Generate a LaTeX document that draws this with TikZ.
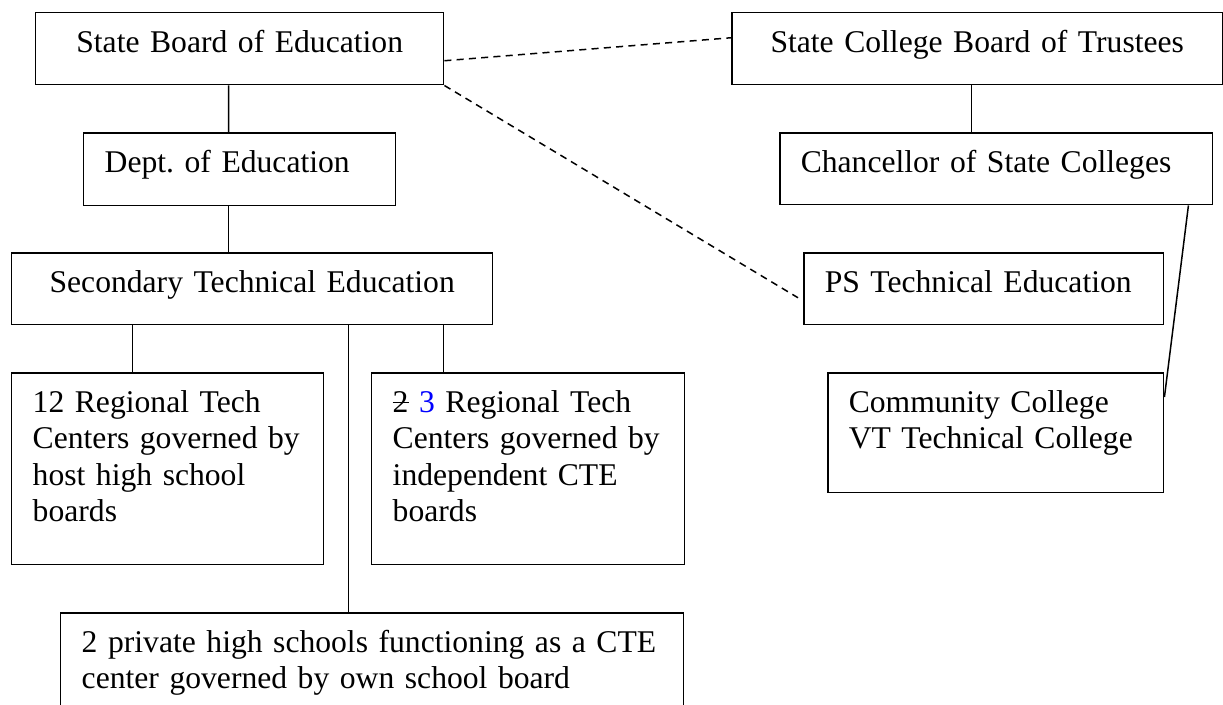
\documentclass[tikz,border=0pt]{standalone}
\usepackage{fontspec}
\setmainfont{Liberation Serif}
\frenchspacing
\newlength\strikewd
\newcommand{\strikeout}[1]{\settowidth{\strikewd}{#1}\rlap{#1}\rule[0.3em]{\strikewd}{0.05em}}

\begin{document}
\begin{tikzpicture}[x=0.02cm, y=-0.02cm, line width=0.85pt,
    font=\fontsize{18}{20.6}\selectfont,
    leftbox/.style={draw, anchor=north west, align=left, inner xsep=0.42cm, inner ysep=0pt, text height=0.8cm},
    midbox/.style={leftbox, align=center},
    link/.style={dash pattern=on 4pt off 3pt}]
    \path[use as bounding box, clip] (0,0) rectangle (1223,704);
    \node[midbox, text width=7.32cm, text depth=0.64cm] (sbe) at (35,12) {State Board of Education};
    \node[leftbox, text width=5.40cm, text depth=0.66cm] (dept) at (83,132) {Dept. of Education};
    \node[midbox, text width=8.78cm, text depth=0.64cm] (ste) at (11,252) {Secondary Technical Education};
    \node[midbox, text width=8.98cm, text depth=0.64cm] (scbt) at (731,12) {State College Board of Trustees};
    \node[leftbox, text width=7.82cm, text depth=0.64cm] (chanc) at (779,132) {Chancellor of State Colleges};
    \node[leftbox, text width=6.36cm, text depth=0.64cm] (pste) at (803,252) {PS Technical Education};
    \node[leftbox, text width=5.88cm, text depth=1.6cm] (cc) at (827,372) {Community College\\VT Technical College};
    \node[leftbox, text width=5.40cm, text depth=3.04cm] (rtc12) at (11,372) {12 Regional Tech\\Centers governed by\\host high school\\boards};
    \node[leftbox, text width=5.42cm, text depth=3.04cm] (rtc23) at (371,372) {\strikeout{2} \textcolor{blue}{3} Regional Tech\\Centers governed by\\independent CTE\\boards};
    \node[leftbox, text width=11.62cm, text depth=1.6cm] (priv) at (60,612) {2 private high schools functioning as a CTE\\center governed by own school board};

    \draw ([xshift=-0.22cm]sbe.south) -- ([xshift=-0.22cm]dept.north);
    \draw ([xshift=-0.22cm]dept.south) -- ([xshift=-0.22cm]dept.south |- ste.north);
    \draw ([xshift=-0.7cm]rtc12.north) -- ([xshift=-0.7cm]rtc12.north |- ste.south);
    \draw ([xshift=-1.69cm]rtc23.north) -- ([xshift=-1.69cm]rtc23.north |- ste.south);
    \draw ([xshift=-0.47cm]priv.north) -- ([xshift=-0.47cm]priv.north |- ste.south);
    \draw ([xshift=-0.11cm]scbt.south) -- ([xshift=-0.11cm]scbt.south |- chanc.north);
    \draw ([xshift=-0.5cm]chanc.south east) -- ([yshift=-0.5cm]cc.north east);
    \draw[link] ([yshift=-0.24cm]sbe.east) -- ([yshift=0.22cm]scbt.west);
    \draw[link] (sbe.south east) -- ([xshift=-0.1cm, yshift=-0.18cm]pste.west);
\end{tikzpicture}
\end{document}
